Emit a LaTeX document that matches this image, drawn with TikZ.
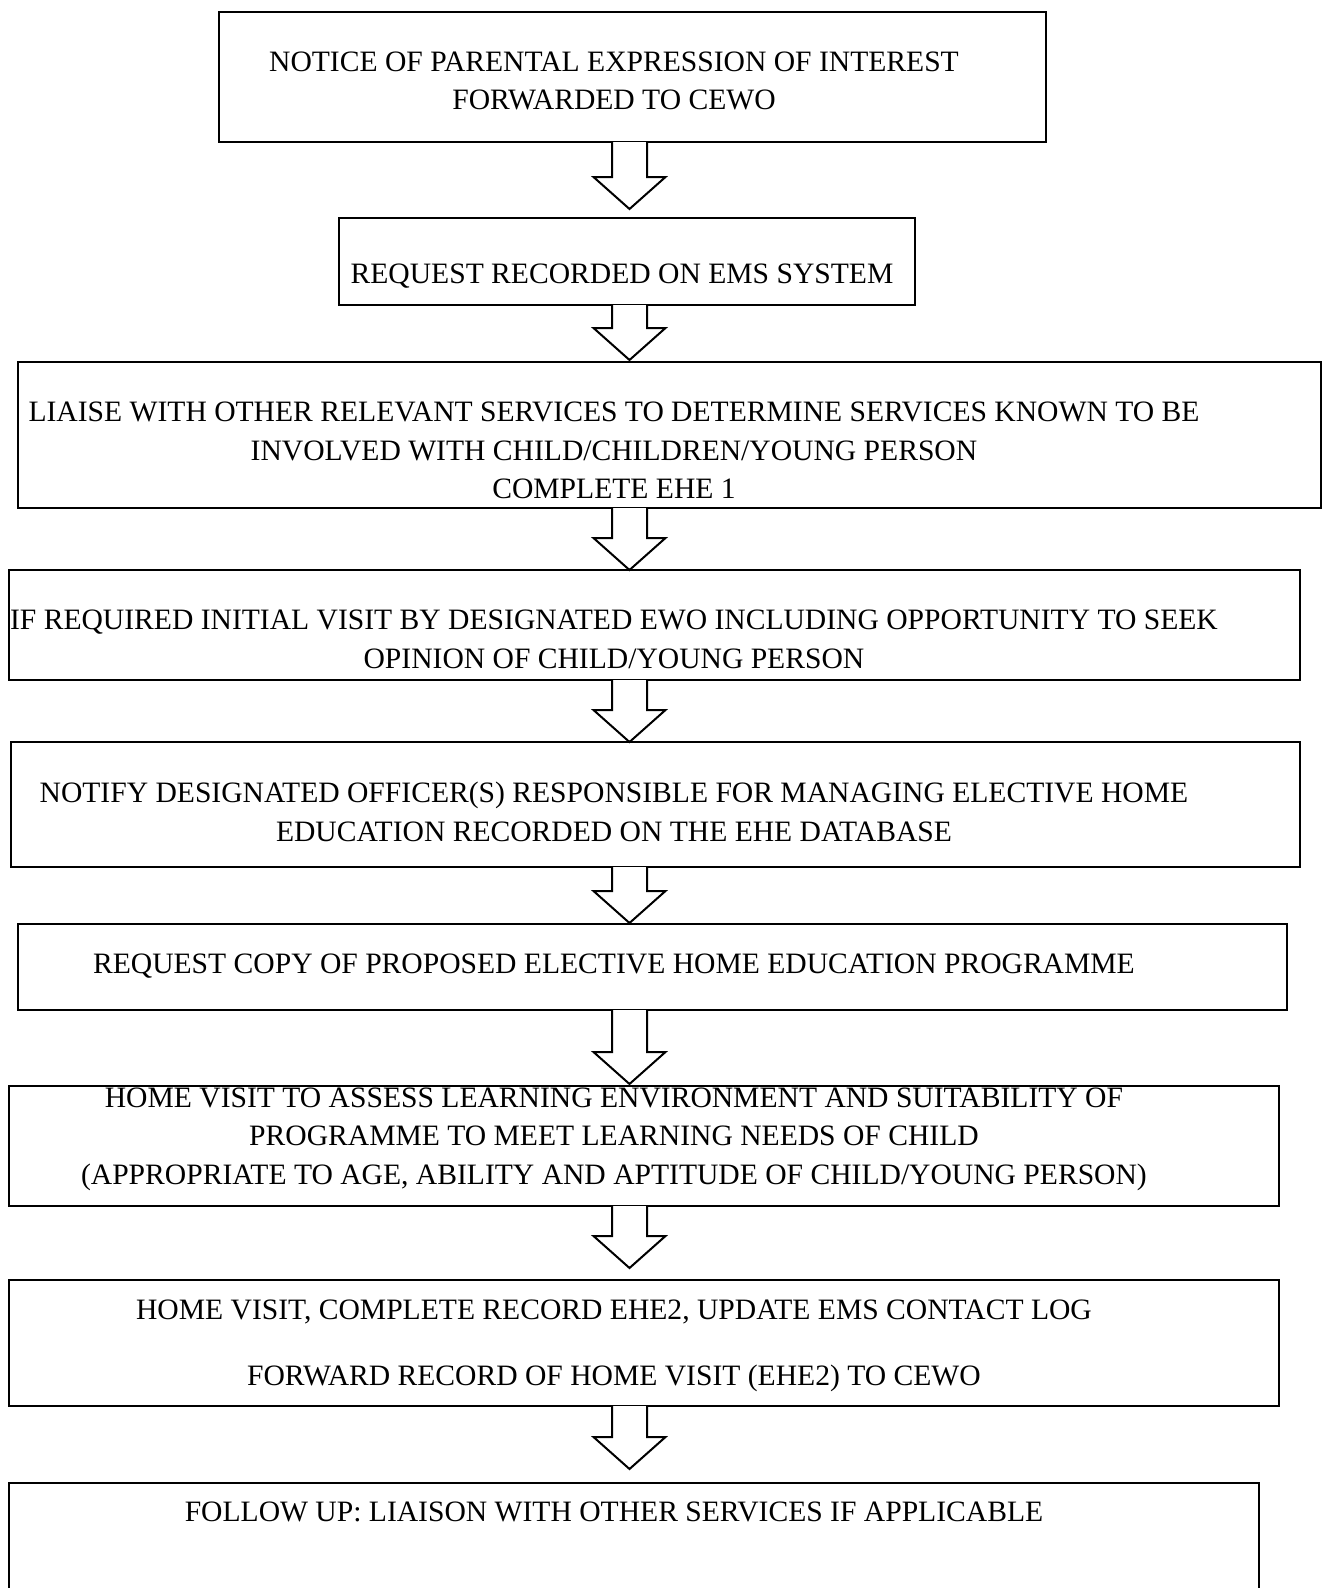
\documentclass[tikz,border=0pt]{standalone}
\usepackage{fontspec}
\setmainfont{Liberation Serif}
\usetikzlibrary{calc}
\tikzset{
  box/.style={draw, line width=2.2pt, rectangle, inner sep=0pt, outer sep=0pt},
  txt/.style={align=center, inner sep=0pt, font=\fontsize{29.6}{38.5}\selectfont},
  arrowline/.style={draw, line width=2pt, line join=miter, fill=white},
}
\newcommand\blockarrow[2]{%
  \draw[arrowline] let \p1=(#1.south), \p2=(#2) in
    (\x2-17.5pt,\y1) -- (\x2-17.5pt,\y2+32pt) -- (\x2-36pt,\y2+32pt) -- (\x2,\y2)
    -- (\x2+36pt,\y2+32pt) -- (\x2+17.5pt,\y2+32pt) -- (\x2+17.5pt,\y1);}
\begin{document}
\begin{tikzpicture}[x=1pt,y=1pt]
\useasboundingbox (0,0) rectangle (1328,-1588);
% boxes
\node[box, minimum width=827pt, minimum height=130pt] (b1) at (632.5,-77) {};
\node[box, minimum width=576pt, minimum height=87pt] (b2) at (627,-261.5) {};
\node[box, minimum width=1303pt, minimum height=146pt] (b3) at (669.5,-435) {};
\node[box, minimum width=1291pt, minimum height=110pt] (b4) at (654.5,-625) {};
\node[box, minimum width=1289pt, minimum height=125pt] (b5) at (655.5,-804.5) {};
\node[box, minimum width=1269pt, minimum height=86pt] (b6) at (652.5,-967) {};
\node[box, minimum width=1270pt, minimum height=120pt] (b7) at (644,-1146) {};
\node[box, minimum width=1270pt, minimum height=126pt] (b8) at (644,-1343) {};
\node[box, minimum width=1250pt, minimum height=140pt] (b9) at (634,-1553) {};
% texts
\node[txt] (t1) at (614,-81) {NOTICE OF PARENTAL EXPRESSION OF INTEREST\\FORWARDED TO CEWO};
\node[txt] (t2) at (622,-276.5) {REQUEST RECORDED ON EMS SYSTEM};
\node[txt] (t3) at (614,-450.5) {LIAISE WITH OTHER RELEVANT SERVICES TO DETERMINE SERVICES KNOWN TO BE\\INVOLVED WITH CHILD/CHILDREN/YOUNG PERSON\\COMPLETE EHE 1};
\node[txt] (t4) at (614,-639.5) {IF REQUIRED INITIAL VISIT BY DESIGNATED EWO INCLUDING OPPORTUNITY TO SEEK\\OPINION OF CHILD/YOUNG PERSON};
\node[txt] (t5) at (614,-812) {NOTIFY DESIGNATED OFFICER(S) RESPONSIBLE FOR MANAGING ELECTIVE HOME\\EDUCATION RECORDED ON THE EHE DATABASE};
\node[txt] (t6) at (614,-966) {REQUEST COPY OF PROPOSED ELECTIVE HOME EDUCATION PROGRAMME};
\node[txt] (t7) at (614,-1139) {HOME VISIT TO ASSESS LEARNING ENVIRONMENT AND SUITABILITY OF\\PROGRAMME TO MEET LEARNING NEEDS OF CHILD\\(APPROPRIATE TO AGE, ABILITY AND APTITUDE OF CHILD/YOUNG PERSON)};
\node[txt] (t8) at (614,-1346) {HOME VISIT, COMPLETE RECORD EHE2, UPDATE EMS CONTACT LOG\\[27.5pt]FORWARD RECORD OF HOME VISIT (EHE2) TO CEWO};
\node[txt] (t9) at (614,-1512) {FOLLOW UP: LIAISON WITH OTHER SERVICES IF APPLICABLE};
% arrow tips
\coordinate (a1) at (629.5,-209);
\coordinate (a2) at (629.5,-360);
\coordinate (a3) at (629.5,-570);
\coordinate (a4) at (629.5,-742);
\coordinate (a5) at (629.5,-923);
\coordinate (a6) at (629.5,-1084);
\coordinate (a7) at (629.5,-1268);
\coordinate (a8) at (629.5,-1469);
\blockarrow{b1}{a1}
\blockarrow{b2}{a2}
\blockarrow{b3}{a3}
\blockarrow{b4}{a4}
\blockarrow{b5}{a5}
\blockarrow{b6}{a6}
\blockarrow{b7}{a7}
\blockarrow{b8}{a8}
\end{tikzpicture}
\end{document}
